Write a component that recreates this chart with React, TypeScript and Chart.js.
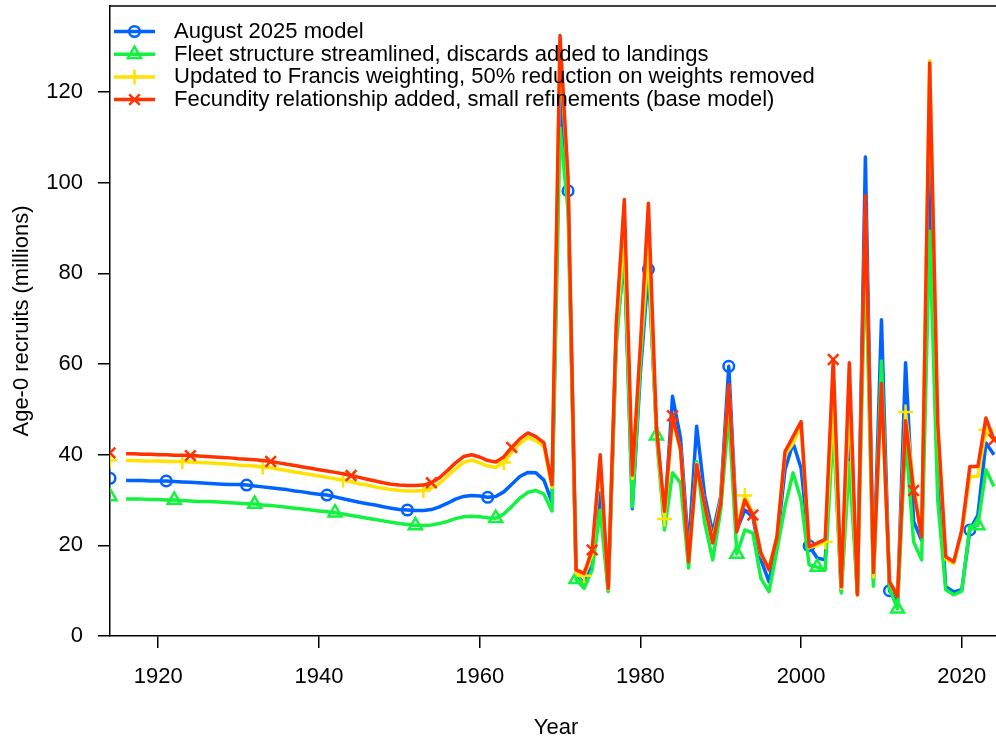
import React, { useEffect, useRef } from "react";
import { Chart, registerables } from "chart.js";

Chart.register(...registerables);

// ---------- data ----------
const virginYear = 1914;
const firstYear = 1916;
const lastYear = 2024;

const seriesLabels = [
  "August 2025 model",
  "Fleet structure streamlined, discards added to landings",
  "Updated to Francis weighting, 50% reduction on weights removed",
  "Fecundity relationship added, small refinements (base model)",
];

const xTickValues = [1920, 1940, 1960, 1980, 2000, 2020];
const yTickValues = [0, 20, 40, 60, 80, 100, 120];

// virgin (unfished) recruitment, plotted as a lone point at 1914
const virginValues = [34.8, 30.8, 38.8, 40.4];

// Age-0 recruits (millions), 1916..2024
const augustModel = [
  34.3, 34.3, 34.3, 34.2, 34.2, 34.2, 34.1, 34.0, 33.9, 33.8,
  33.7, 33.6, 33.5, 33.4, 33.4, 33.3, 33.1, 32.9, 32.7, 32.5,
  32.3, 32.0, 31.8, 31.5, 31.3, 31.1, 30.7, 30.3, 29.9, 29.5,
  29.2, 28.9, 28.5, 28.2, 27.9, 27.8, 27.7, 27.7, 27.9, 28.5,
  29.3, 30.2, 30.8, 31.0, 30.9, 30.6, 30.8, 31.8, 33.5, 35.2,
  36.1, 36.0, 34.4, 29.5,
  120.5, 98.2, 13.5, 11.7, 15.5, 31.6, 10.0, 66, 84, 28.1,
  58, 80.9, 46, 26, 52.9, 43.6, 19, 46.3, 31, 22.7,
  30.8, 59.5, 23.4, 27.8, 26.2, 16.8, 12.0, 20.5, 36.7, 42.6,
  37, 19.9, 17.2, 16.8, 49, 10, 44, 9.5, 105.7, 12.5,
  69.8, 10.0, 7.5, 60.3, 25.3, 21.1, 105.4, 38, 10.9, 9.7,
  10.2, 23.4, 26.7, 42.6, 40.0,
];

const fleetStreamlined = [
  30.2, 30.2, 30.2, 30.1, 30.1, 30.0, 30.0, 29.9, 29.8, 29.7,
  29.7, 29.6, 29.5, 29.4, 29.3, 29.2, 29.1, 28.9, 28.8, 28.6,
  28.4, 28.2, 28.0, 27.8, 27.6, 27.4, 27.2, 26.9, 26.6, 26.3,
  26.0, 25.7, 25.4, 25.1, 24.8, 24.6, 24.4, 24.4, 24.5, 24.8,
  25.3, 25.9, 26.3, 26.4, 26.3, 26.1, 26.0, 26.9, 28.6, 30.4,
  31.7, 32.1, 31.3, 27.6,
  112, 94, 12.5, 10.5, 14.6, 27.8, 9.8, 64, 86, 28.5,
  60, 84.6, 44.2, 23.4, 36.0, 33.8, 15, 38.5, 25, 16.8,
  27.8, 49.2, 18.1, 23.4, 22.7, 12.7, 9.8, 19, 28.6, 36.0,
  30, 15.7, 15.2, 14.6, 46, 9.5, 38.2, 9.5, 85, 11,
  60.7, 10.5, 6.0, 44, 20.8, 16.8, 89.3, 30, 10.2, 9.1,
  9.9, 24.2, 24.4, 36.7, 33.0,
];

const francisWeighting = [
  38.7, 38.7, 38.6, 38.6, 38.6, 38.5, 38.5, 38.5, 38.4, 38.3,
  38.2, 38.1, 38.0, 37.9, 37.7, 37.6, 37.5, 37.3, 37.1, 36.8,
  36.5, 36.2, 35.9, 35.6, 35.3, 35.0, 34.7, 34.4, 34.0, 33.6,
  33.3, 32.9, 32.6, 32.3, 32.1, 32.0, 32.0, 32.1, 32.6, 33.7,
  35.3, 36.9, 38.3, 38.8, 38.2, 37.5, 37.2, 38.3, 40.5, 42.5,
  43.8, 43.1, 41.8, 32.8,
  130.5, 100, 13.8, 13.3, 18, 38.5, 10.3, 68, 89, 34.8,
  63, 86, 45.5, 25.8, 48, 41, 16.5, 38, 29, 21,
  30, 54.8, 23.5, 31.0, 27, 18, 15, 22, 40, 42.5,
  46.5, 19.5, 20, 20.8, 51, 10.5, 52, 9, 93, 13,
  55, 12, 8.8, 49.4, 33, 22, 127, 46, 17, 16,
  23, 35.2, 35.2, 45.5, 43,
];

const fecundityBase = [
  40.2, 40.2, 40.1, 40.1, 40.0, 40.0, 39.9, 39.9, 39.8, 39.7,
  39.6, 39.5, 39.4, 39.3, 39.1, 39.0, 38.9, 38.7, 38.5, 38.2,
  37.9, 37.6, 37.3, 37.0, 36.7, 36.4, 36.1, 35.8, 35.4, 35.0,
  34.6, 34.2, 33.8, 33.5, 33.3, 33.2, 33.2, 33.3, 33.8, 34.9,
  36.5, 38.2, 39.6, 40.0, 39.5, 38.7, 38.4, 39.5, 41.6, 43.5,
  44.8, 44.0, 42.6, 33.4,
  132.5, 101, 14.6, 13.8, 19.0, 40.0, 10.5, 69, 96.3, 35.5,
  64, 95.5, 46, 27.5, 48.6, 41.1, 16.4, 37.8, 29, 20.5,
  29.3, 55.5, 23.0, 30, 26.7, 18.3, 14.6, 21.9, 40.7, 44.0,
  47.3, 19.7, 20.5, 21.3, 61, 10.9, 60.3, 9.1, 97.2, 14,
  55.7, 12, 8.7, 47.5, 32.1, 21.9, 126.4, 47, 17.5, 16.4,
  23.4, 37.4, 37.4, 48.1, 43.3,
];

// first year of the every-ten-years marker sequence for each model
const markerStartYears = [1921, 1922, 1923, 1924];

// ---------- styles ----------
const colors = ["rgb(0,99,255)", "rgb(19,242,64)", "rgb(255,226,1)", "rgb(255,51,0)"];
const pointStyles = ["circle", "triangle", "cross", "crossRot"] as const;
const pointRadii = [5.3, 7.5, 7.5, 7.5];
const FONT_FAMILY = "'Liberation Sans', Arial, Helvetica, sans-serif";
const FONT_SIZE = 22;
const LINE_WIDTH = 3.5;

function buildYears(): number[] {
  const ys: number[] = [virginYear, virginYear + 1];
  for (let y = firstYear; y <= lastYear; y++) ys.push(y);
  return ys;
}

function drawMarker(ctx: CanvasRenderingContext2D, kind: string, x: number, y: number, r: number) {
  ctx.beginPath();
  if (kind === "circle") {
    ctx.arc(x, y, r, 0, Math.PI * 2);
  } else if (kind === "triangle") {
    for (let i = 0; i < 3; i++) {
      const a = (i * 2 * Math.PI) / 3;
      const px = x + Math.sin(a) * r;
      const py = y - Math.cos(a) * r;
      if (i === 0) ctx.moveTo(px, py);
      else ctx.lineTo(px, py);
    }
    ctx.closePath();
  } else if (kind === "cross") {
    ctx.moveTo(x - r, y);
    ctx.lineTo(x + r, y);
    ctx.moveTo(x, y - r);
    ctx.lineTo(x, y + r);
  } else {
    const d = r * Math.SQRT1_2;
    ctx.moveTo(x - d, y - d);
    ctx.lineTo(x + d, y + d);
    ctx.moveTo(x - d, y + d);
    ctx.lineTo(x + d, y - d);
  }
  ctx.stroke();
}

const framePlugin = {
  id: "frameAndLegend",
  afterDatasetsDraw(chart: any) {
    const { ctx, chartArea: a } = chart;
    ctx.save();
    ctx.strokeStyle = "#000";
    ctx.lineWidth = 1.5;
    ctx.beginPath();
    ctx.moveTo(a.left, a.top);
    ctx.lineTo(a.right, a.top);
    ctx.lineTo(a.right, a.bottom);
    ctx.stroke();

    const rows = [31.5, 54.2, 76.9, 99.6];
    ctx.font = `${FONT_SIZE}px ${FONT_FAMILY}`;
    ctx.textBaseline = "middle";
    ctx.textAlign = "left";
    seriesLabels.forEach((label, i) => {
      const y = rows[i];
      ctx.strokeStyle = colors[i];
      ctx.lineWidth = LINE_WIDTH;
      ctx.lineCap = "butt";
      ctx.beginPath();
      ctx.moveTo(114, y);
      ctx.lineTo(155, y);
      ctx.stroke();
      ctx.lineWidth = 2.5;
      drawMarker(ctx, pointStyles[i], 134.5, y, pointRadii[i]);
      ctx.fillStyle = "#000";
      ctx.fillText(label, 174, y + 0.5);
    });
    ctx.restore();
  },
};

function zeroPadding(s: any) {
  s.paddingTop = 0;
  s.paddingBottom = 0;
  s.paddingLeft = 0;
  s.paddingRight = 0;
}

export default function App() {
  const canvasRef = useRef<HTMLCanvasElement | null>(null);

  useEffect(() => {
    const canvas = canvasRef.current;
    if (!canvas) return;
    const years = buildYears();
    const allSeries = [augustModel, fleetStreamlined, francisWeighting, fecundityBase];

    const datasets = allSeries.map((vals, i) => {
      const full: (number | null)[] = [virginValues[i], null, ...vals];
      return {
        label: seriesLabels[i],
        data: years.map((x, k) => ({ x, y: full[k] })),
        borderColor: colors[i],
        backgroundColor: "rgba(0,0,0,0)",
        borderWidth: LINE_WIDTH,
        borderJoinStyle: "round" as const,
        tension: 0,
        spanGaps: false,
        order: 4 - i,
        pointStyle: pointStyles[i],
        pointRadius: years.map((yr) =>
          yr === virginYear || (yr >= markerStartYears[i] && (yr - markerStartYears[i]) % 10 === 0)
            ? pointRadii[i]
            : 0
        ),
        pointHoverRadius: 0,
        pointBorderColor: colors[i],
        pointBackgroundColor: "rgba(0,0,0,0)",
        pointBorderWidth: 2.5,
      };
    });

    const font = { family: FONT_FAMILY, size: FONT_SIZE };

    const chart = new Chart(canvas, {
      type: "line",
      data: { datasets: datasets as any },
      options: {
        responsive: false,
        animation: false,
        events: [],
        layout: { autoPadding: false, padding: { left: 0, top: 6, right: 8, bottom: 0 } },
        plugins: {
          legend: { display: false },
          tooltip: { enabled: false },
        },
        scales: {
          x: {
            type: "linear",
            min: 1914,
            max: 2025,
            afterFit: (s: any) => {
              s.height = 108;
              zeroPadding(s);
            },
            afterBuildTicks: (s: any) => {
              s.ticks = xTickValues.map((v) => ({ value: v }));
            },
            ticks: {
              callback: (v: any) => String(v),
              font,
              color: "#000",
              padding: 16,
              maxRotation: 0,
              autoSkip: false,
            },
            grid: {
              display: true,
              drawOnChartArea: false,
              drawTicks: true,
              tickLength: 12,
              color: "#000",
              lineWidth: 1.5,
            },
            border: { display: true, color: "#000", width: 1.5 },
            title: {
              display: true,
              text: "Year",
              font,
              color: "#000",
              padding: { top: 0, bottom: 3 },
            },
          },
          y: {
            type: "linear",
            min: 0,
            max: 139,
            afterFit: (s: any) => {
              s.width = 110;
              zeroPadding(s);
            },
            afterBuildTicks: (s: any) => {
              s.ticks = yTickValues.map((v) => ({ value: v }));
            },
            ticks: { font, color: "#000", padding: 15 },
            grid: {
              display: true,
              drawOnChartArea: false,
              drawTicks: true,
              tickLength: 12,
              color: "#000",
              lineWidth: 1.5,
            },
            border: { display: true, color: "#000", width: 1.5 },
            title: {
              display: true,
              text: "Age-0 recruits (millions)",
              font,
              color: "#000",
              padding: { top: 9, bottom: 0 },
            },
          },
        },
      },
      plugins: [framePlugin],
    });

    return () => {
      chart.destroy();
    };
  }, []);

  return (
    <div
      style={{
        position: "fixed",
        left: 0,
        top: 0,
        width: 996,
        height: 744,
        overflow: "hidden",
        background: "#fff",
      }}
    >
      <canvas ref={canvasRef} width={1010} height={744} style={{ display: "block" }} />
    </div>
  );
}
